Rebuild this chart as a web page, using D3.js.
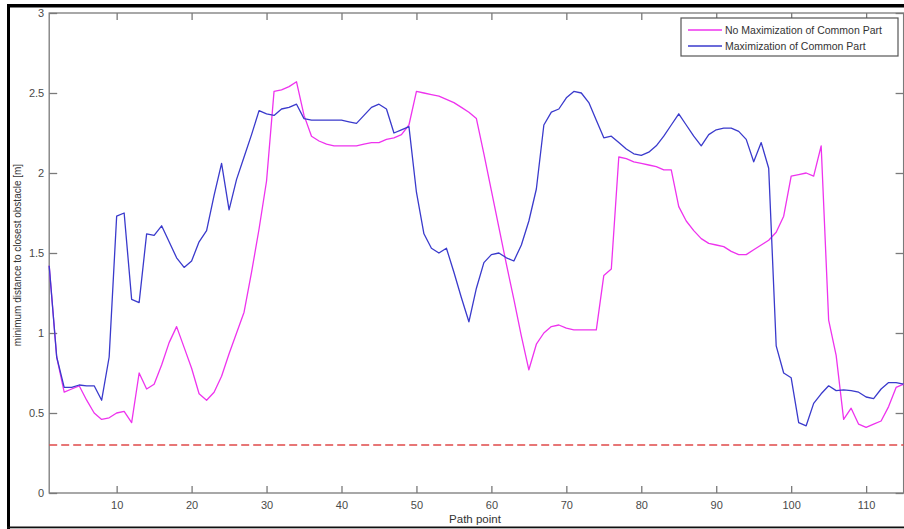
<!DOCTYPE html>
<html>
<head>
<meta charset="utf-8">
<script src="https://cdn.jsdelivr.net/npm/d3@7"></script>
<style>
  body { margin: 0; background: #fff; }
  svg { display: block; font-family: "Liberation Sans", Arial, sans-serif; }
  .tick text { fill: #4a4a4a; font-size: 11px; }
  .axis-label { fill: #333; text-anchor: middle; }
</style>
</head>
<body>
<div id="lineChart1"></div>
<script>
// DATA
const seriesNames = ["No Maximization of Common Part", "Maximization of Common Part"];
const safetyDistance = 0.3;
const xTicks = [10, 20, 30, 40, 50, 60, 70, 80, 90, 100, 110];
const yTicks = [0, 0.5, 1, 1.5, 2, 2.5, 3];

// path points 1..115
const noMaxValues = [
  1.42, 0.85, 0.63, 0.65, 0.67, 0.58, 0.50, 0.46, 0.47, 0.50,
  0.51, 0.44, 0.75, 0.65, 0.68, 0.80, 0.94, 1.04, 0.91, 0.78,
  0.62, 0.58, 0.63, 0.73, 0.87, 1.00, 1.13, 1.38, 1.65, 1.95,
  2.51, 2.52, 2.54, 2.57, 2.36, 2.23, 2.20, 2.18, 2.17, 2.17,
  2.17, 2.17, 2.18, 2.19, 2.19, 2.21, 2.22, 2.24, 2.30, 2.51,
  2.50, 2.49, 2.48, 2.46, 2.44, 2.41, 2.38, 2.34, 2.12, 1.89,
  1.66, 1.43, 1.21, 0.98, 0.77, 0.93, 1.00, 1.04, 1.05, 1.03,
  1.02, 1.02, 1.02, 1.02, 1.36, 1.40, 2.10, 2.09, 2.07, 2.06,
  2.05, 2.04, 2.02, 2.02, 1.79, 1.70, 1.64, 1.59, 1.56, 1.55,
  1.54, 1.51, 1.49, 1.49, 1.52, 1.55, 1.58, 1.63, 1.73, 1.98,
  1.99, 2.00, 1.98, 2.17, 1.08, 0.86, 0.46, 0.53, 0.43, 0.41,
  0.43, 0.45, 0.54, 0.66, 0.68
];
const maxValues = [
  1.42, 0.85, 0.66, 0.66, 0.675, 0.67, 0.67, 0.58, 0.85, 1.73,
  1.75, 1.21, 1.19, 1.62, 1.61, 1.67, 1.57, 1.47, 1.41, 1.45,
  1.57, 1.64, 1.86, 2.06, 1.77, 1.96, 2.10, 2.24, 2.39, 2.37,
  2.36, 2.40, 2.41, 2.43, 2.34, 2.33, 2.33, 2.33, 2.33, 2.33,
  2.32, 2.31, 2.36, 2.41, 2.43, 2.40, 2.25, 2.27, 2.29, 1.88,
  1.62, 1.53, 1.50, 1.53, 1.38, 1.22, 1.07, 1.28, 1.44, 1.49,
  1.50, 1.47, 1.45, 1.55, 1.70, 1.90, 2.30, 2.38, 2.40, 2.47,
  2.51, 2.50, 2.44, 2.33, 2.22, 2.23, 2.19, 2.15, 2.12, 2.11,
  2.13, 2.17, 2.23, 2.30, 2.37, 2.30, 2.23, 2.17, 2.24, 2.27,
  2.28, 2.28, 2.26, 2.21, 2.07, 2.19, 2.03, 0.92, 0.75, 0.72,
  0.44, 0.42, 0.56, 0.62, 0.67, 0.64, 0.645, 0.64, 0.63, 0.60,
  0.59, 0.65, 0.69, 0.69, 0.68
];

// 1: SET GLOBAL VARIABLES
const W = 904, H = 529;
const margin = { top: 13, right: 0.4, bottom: 36, left: 49.2 };
const width = W - margin.left - margin.right;
const height = H - margin.top - margin.bottom;

const svg = d3.select("#lineChart1")
    .append("svg")
    .attr("width", W)
    .attr("height", H);

// black frame of the screenshot
svg.append("rect").attr("x", 7).attr("y", 4).attr("width", W).attr("height", 3.5).attr("fill", "#000");
svg.append("rect").attr("x", 7).attr("y", 4).attr("width", 3).attr("height", H).attr("fill", "#000");
svg.append("rect").attr("x", 7).attr("y", 526.5).attr("width", W).attr("height", 1.8).attr("fill", "#111");

const g = svg.append("g")
    .attr("transform", `translate(${margin.left},${margin.top})`);

// 3: SCALES
const x = d3.scaleLinear().domain([1, 115]).range([0, width]);
const y = d3.scaleLinear().domain([0, 3]).range([height, 0]);

// 5: AXES (MATLAB style box with inward ticks)
const axisColor = "#7a7a7a";
const styleAxis = sel => {
    sel.select(".domain").remove();
    sel.selectAll(".tick line").attr("stroke", axisColor).attr("stroke-width", 1.3);
};

g.append("g")
    .attr("transform", `translate(0,${height})`)
    .call(d3.axisBottom(x).tickValues(xTicks).tickSize(-7).tickPadding(8).tickFormat(d3.format("d")))
    .call(styleAxis);
g.append("g")
    .call(d3.axisTop(x).tickValues(xTicks).tickSize(-7).tickFormat(""))
    .call(styleAxis);
g.append("g")
    .call(d3.axisLeft(y).tickValues(yTicks).tickSize(-8).tickPadding(5).tickFormat(d => d))
    .call(styleAxis);
g.append("g")
    .attr("transform", `translate(${width},0)`)
    .call(d3.axisRight(y).tickValues(yTicks).tickSize(-8).tickFormat(""))
    .call(styleAxis);

g.append("rect")
    .attr("width", width)
    .attr("height", height)
    .attr("fill", "none")
    .attr("stroke", axisColor)
    .attr("stroke-width", 1.3);

// 4: PLOT DATA
const line = d3.line()
    .x((d, i) => x(i + 1))
    .y(d => y(d));

g.append("path")
    .datum([safetyDistance, safetyDistance])
    .attr("d", d3.line().x((d, i) => x(i ? 115 : 1)).y(d => y(d)))
    .attr("stroke", "#e04a4a")
    .attr("stroke-width", 1.3)
    .attr("stroke-dasharray", "8,4")
    .attr("fill", "none");

const colors = ["#ee33ee", "#3a3acc"];
[noMaxValues, maxValues].forEach((vals, k) => {
    g.append("path")
        .datum(vals)
        .attr("d", line)
        .attr("stroke", colors[k])
        .attr("stroke-width", 1.3)
        .attr("stroke-linejoin", "round")
        .attr("fill", "none");
});

// 6: LABELS
svg.append("text")
    .attr("class", "axis-label")
    .attr("x", 475)
    .attr("y", 523)
    .attr("font-size", 11.5)
    .text("Path point");

svg.append("text")
    .attr("class", "axis-label")
    .attr("transform", "translate(21,255) rotate(-90)")
    .attr("font-size", 10)
    .text("minimum distance to closest obstacle [m]");

// legend
const legend = svg.append("g").attr("transform", "translate(681,18)");
legend.append("rect")
    .attr("width", 217)
    .attr("height", 38)
    .attr("fill", "#fff")
    .attr("stroke", "#555")
    .attr("stroke-width", 1.2);
seriesNames.forEach((name, k) => {
    const ly = 12 + k * 16;
    legend.append("line")
        .attr("x1", 7).attr("x2", 41)
        .attr("y1", ly).attr("y2", ly)
        .attr("stroke", colors[k])
        .attr("stroke-width", 1.3);
    legend.append("text")
        .attr("x", 44)
        .attr("y", ly + 4)
        .attr("font-size", 10.5)
        .attr("fill", "#333")
        .text(name);
});
</script>
</body>
</html>
